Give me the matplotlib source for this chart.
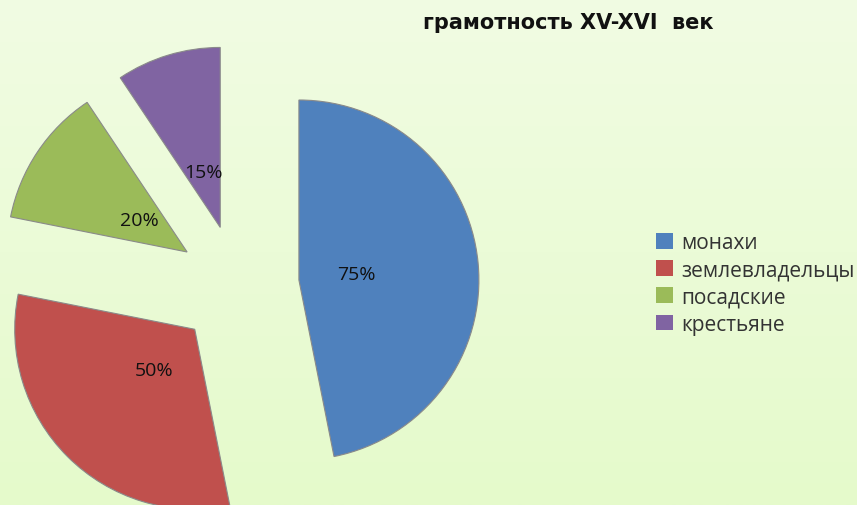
import numpy as np
import matplotlib
matplotlib.use("Agg")
import matplotlib.pyplot as plt

# данные
labels = ["монахи", "землевладельцы", "посадские", "крестьяне"]
values = [75, 50, 20, 15]
colors = ["#4F81BD", "#C0504D", "#9BBB59", "#8064A2"]
title = "грамотность XV-XVI  век"

W, H = 857, 506
R = 180.0  # радиус в пикселях
cx, cy = 238, 287  # центр пирога (пиксели, y сверху)

fig = plt.figure(figsize=(W / 100, H / 100), dpi=100)

# фон - светло-зеленый градиент
bg = fig.add_axes([0, 0, 1, 1])
grad = np.linspace(0, 1, 256).reshape(-1, 1)
top = np.array([0xF1, 0xFC, 0xE3]) / 255
bot = np.array([0xE5, 0xFA, 0xCB]) / 255
img = top + (bot - top) * grad[:, :, None]
bg.imshow(img, aspect="auto", extent=[0, 1, 0, 1])
bg.axis("off")

ax = fig.add_axes([0, 0, 1, 1])

total = sum(values)
wedges, texts, autotexts = ax.pie(
    values, colors=colors, startangle=90, counterclock=False,
    explode=[0.34] * 4, radius=1.0, pctdistance=0.32,
    autopct=lambda p: "{:.0f}%".format(p * total / 100.),
    wedgeprops=dict(edgecolor="#8a8a8a", linewidth=0.8),
    textprops=dict(fontsize=14, color="#111111", family="Open Sans"))
for a in autotexts:
    a.set_ha("center")

# pie() сбрасывает пределы, поэтому задаем их после
ax.set_xlim(-cx / R, (W - cx) / R)
ax.set_ylim(-(H - cy) / R, cy / R)
ax.set_aspect("equal")
ax.axis("off")

fig.text(568 / W, 1 - 23 / H, title, ha="center", va="center",
         fontsize=15, fontweight="bold", color="#111111", family="DejaVu Sans")

leg = ax.legend(wedges, labels, loc="upper left", bbox_to_anchor=(656 / W, 1 - 233 / H),
                bbox_transform=fig.transFigure, frameon=False,
                prop=dict(family="Open Sans", size=15),
                handlelength=0.8, handleheight=0.8, handletextpad=0.4,
                labelspacing=0.3, borderpad=0, borderaxespad=0)
for t in leg.get_texts():
    t.set_color("#333333")
for h in leg.legend_handles:
    h.set_edgecolor("none")

fig.savefig("out.png", dpi=100)
